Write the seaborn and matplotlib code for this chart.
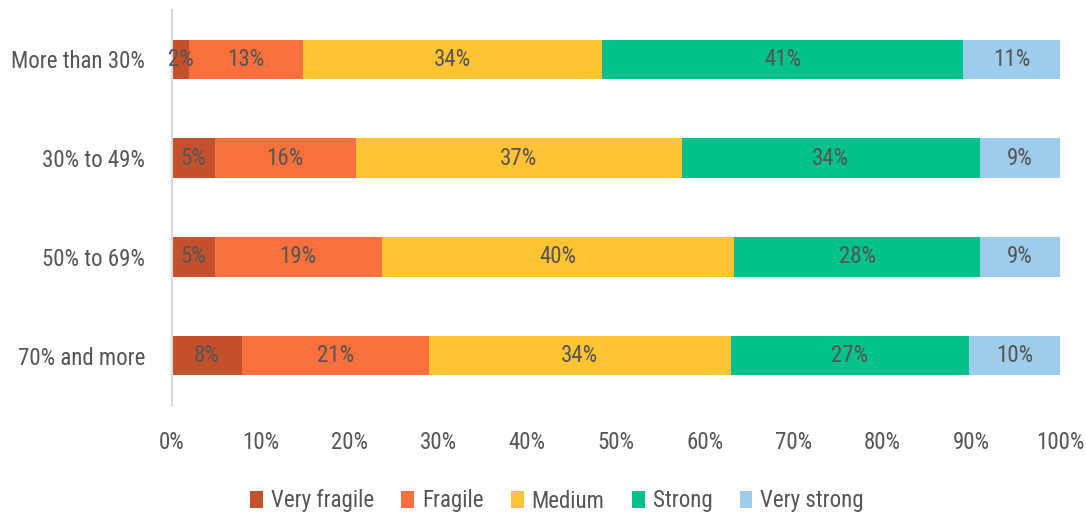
import matplotlib
matplotlib.use("Agg")
import matplotlib.pyplot as plt
import seaborn as sns
import numpy as np
import pandas as pd
from matplotlib.patches import Patch
from matplotlib.ticker import FuncFormatter

categories = ["More than 30%", "30% to 49%", "50% to 69%", "70% and more"]
series = ["Very fragile", "Fragile", "Medium", "Strong", "Very strong"]
very_fragile = [1.9, 4.8, 4.8, 7.9]
fragile = [12.9, 15.9, 18.8, 21.0]
medium = [33.6, 36.7, 39.7, 34.0]
strong = [40.7, 33.6, 27.7, 26.9]
very_strong = [10.9, 9.0, 9.0, 10.2]
colors = ["#C4502C", "#F8703C", "#FFC334", "#00C28A", "#9DCDEB"]

values = [very_fragile, fragile, medium, strong, very_strong]

sns.set_theme(style="white")
plt.rcParams['font.family'] = ['Liberation Sans Narrow', 'Roboto Condensed', 'Roboto', 'DejaVu Sans']
txt = "#555555"
fs = 16.5

fig = plt.figure(figsize=(10.86, 5.14), dpi=100)
ax = fig.add_axes([172/1086, 109/514, (1060-172)/1086, (504-109)/514])

cum = np.cumsum(np.array(values), axis=0)
for i in range(len(series) - 1, -1, -1):
    df = pd.DataFrame({"cat": categories, "end": cum[i]})
    sns.barplot(data=df, x="end", y="cat", color=colors[i], orient="h",
                width=0.4, ax=ax, saturation=1, linewidth=0, order=categories)

starts = np.vstack([np.zeros(len(categories)), cum[:-1]])
for i in range(len(series)):
    for j in range(len(categories)):
        mid = starts[i][j] + values[i][j] / 2
        ax.text(mid, j, f"{round(values[i][j]):.0f}%", ha="center", va="center",
                fontsize=fs, color=txt)

ax.set_xlim(0, 100)
ax.set_ylim(3.5, -0.5)
ax.set_xticks(np.arange(0, 101, 10))
ax.xaxis.set_major_formatter(FuncFormatter(lambda v, p: f"{v:.0f}%"))
ax.set_xlabel("")
ax.set_ylabel("")
ax.tick_params(axis="x", labelsize=fs, colors=txt, length=0, pad=19)
ax.tick_params(axis="y", labelsize=fs, colors=txt, length=0, pad=19.5)
for s in ["top", "right", "bottom"]:
    ax.spines[s].set_visible(False)
ax.spines["left"].set_color("#d9d9d9")
ax.spines["left"].set_linewidth(1.5)

handles = [Patch(facecolor=c, edgecolor="none") for c in colors]
fig.legend(handles, series, loc="center", bbox_to_anchor=(0.513, 1 - 501/514),
           ncol=5, frameon=False, fontsize=fs, labelcolor=txt,
           handlelength=0.55, handleheight=0.7, handletextpad=0.35, columnspacing=1.2)

fig.savefig("out.png", dpi=100)
